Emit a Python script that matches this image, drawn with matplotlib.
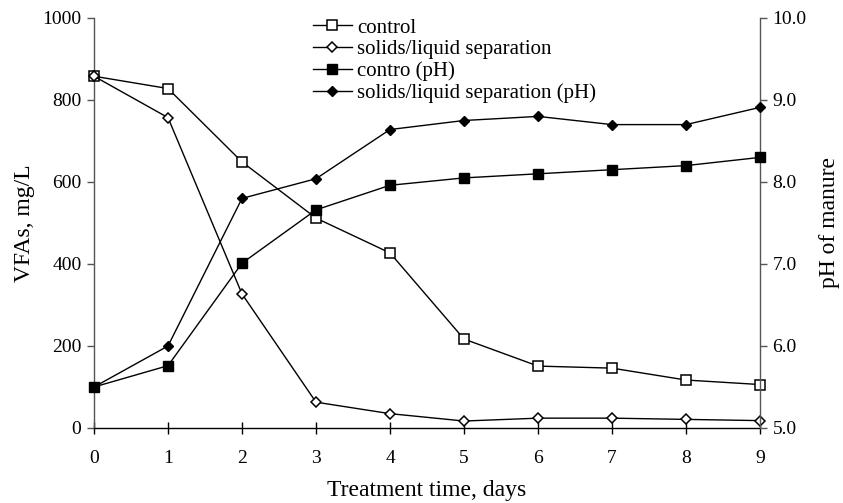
import matplotlib
matplotlib.use("Agg")
import matplotlib.pyplot as plt

plt.rcParams['font.family'] = ['Liberation Serif', 'DejaVu Serif']

days = [0, 1, 2, 3, 4, 5, 6, 7, 8, 9]
vfa_control = [858, 828, 649, 512, 427, 217, 151, 146, 117, 106]
vfa_separation = [858, 757, 327, 63, 35, 17, 24, 24, 21, 18]
ph_control = [5.5, 5.76, 7.01, 7.66, 7.96, 8.05, 8.1, 8.15, 8.2, 8.3]
ph_separation = [5.5, 6.0, 7.8, 8.04, 8.64, 8.75, 8.8, 8.7, 8.7, 8.91]
labels = ["control", "solids/liquid separation", "contro (pH)", "solids/liquid separation (pH)"]

fig = plt.figure(figsize=(8.43, 5.03), dpi=100)
ax = fig.add_axes([94/843, 1-428/503, (760-94)/843, (428-18)/503])
ax2 = ax.twinx()

spine_col = '#555555'
l1, = ax.plot(days, vfa_control, color='black', lw=1, marker='s', ms=7, mfc='white', mec='black', mew=1.1, zorder=3)
l2, = ax.plot(days, vfa_separation, color='black', lw=1, marker='D', ms=5.5, mfc='white', mec='black', mew=1.1, zorder=3)
l3, = ax2.plot(days, ph_control, color='black', lw=1, marker='s', ms=7, mfc='black', mec='black', zorder=3)
l4, = ax2.plot(days, ph_separation, color='black', lw=1, marker='D', ms=5.5, mfc='black', mec='black', zorder=3)

ax.set_xlim(0, 9)
ax.set_ylim(0, 1000)
ax2.set_ylim(5.0, 10.0)
ax.set_xticks(days)
ax.set_yticks([0, 200, 400, 600, 800, 1000])
ax2.set_yticks([5.0, 6.0, 7.0, 8.0, 9.0, 10.0])
ax2.set_yticklabels(['5.0', '6.0', '7.0', '8.0', '9.0', '10.0'])

for a in (ax, ax2):
    a.spines['top'].set_visible(False)
    for s in ('left', 'right', 'bottom'):
        a.spines[s].set_color(spine_col)
        a.spines[s].set_linewidth(1.0)
ax.spines['right'].set_visible(False)
ax2.spines['left'].set_visible(False)
ax2.spines['bottom'].set_visible(False)
ax.spines['bottom'].set_color('black')

for l in (l1, l2, l3, l4):
    l.set_clip_on(False)

ax.tick_params(axis='y', direction='out', length=5, width=1, color=spine_col, labelsize=14, pad=4)
ax.tick_params(axis='x', direction='inout', length=8, width=1, color='black', labelsize=14, pad=12)
ax2.tick_params(axis='y', direction='out', length=5, width=1, color=spine_col, labelsize=14, pad=4)

ax.set_xlabel('Treatment time, days', fontsize=17, labelpad=9)
ax.set_ylabel('VFAs, mg/L', fontsize=17, labelpad=5)
ax2.set_ylabel('pH of manure', fontsize=17, labelpad=9)

leg = ax.legend([l1, l2, l3, l4], labels, loc='upper left', bbox_to_anchor=(0.329, 1.0),
                frameon=False, fontsize=15, handlelength=1.85, handletextpad=0.25,
                labelspacing=0.1, borderaxespad=0, borderpad=0)
leg.set_zorder(5)

fig.savefig('out.png', dpi=100)
